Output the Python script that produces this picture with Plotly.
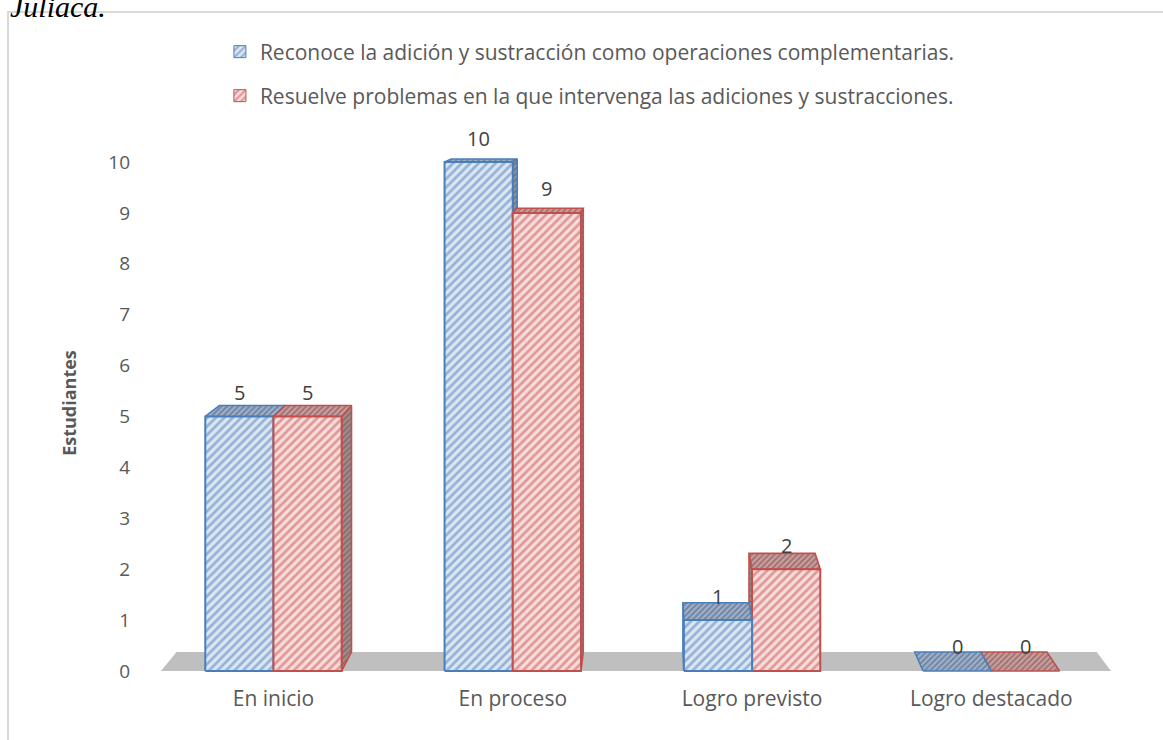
import plotly.graph_objects as go

# ---------------- data ----------------
categories = ["En inicio", "En proceso", "Logro previsto", "Logro destacado"]
series_names = [
    "Reconoce la adición y sustracción como operaciones complementarias.",
    "Resuelve problemas en la que intervenga las adiciones y sustracciones.",
]
reconoce = [5, 10, 1, 0]
resuelve = [5, 9, 2, 0]
y_tick_values = list(range(0, 11))
y_title = "Estudiantes"
caption_text = "Juliaca."

# ---------------- styling / geometry ----------------
BAR_W = 0.285
VX, VY, DEPTH = 1.594, 11.87, 0.0314   # pseudo-3D vanishing point & depth
X_RANGE = [-0.47, 3.5]
Y_RANGE = [-0.04, 10.57]
FONT = "Open Sans"
TXT = "#595959"

styles = [
    dict(line="#4a7ebb",
         front=dict(shape="/", fgcolor="#4a7ebb", bgcolor="#dce6f2", size=6, solidity=0.45),
         top=dict(shape="/", fgcolor="#48586d", bgcolor="#9fb3cf", size=4, solidity=0.5),
         side=dict(shape="/", fgcolor="#4d4d4d", bgcolor="#8c9ab0", size=4, solidity=0.5)),
    dict(line="#c0504d",
         front=dict(shape="/", fgcolor="#c9504d", bgcolor="#f6dddc", size=6, solidity=0.45),
         top=dict(shape="/", fgcolor="#6a4646", bgcolor="#cfa0a0", size=4, solidity=0.5),
         side=dict(shape="/", fgcolor="#555555", bgcolor="#a98c8c", size=4, solidity=0.5)),
]


def back(x, y):
    return x + DEPTH * (VX - x), y + DEPTH * (VY - y)


fig = go.Figure()


def poly(pts, line_color, pattern=None, fillcolor=None, width=1.6):
    xs = [p[0] for p in pts] + [pts[0][0]]
    ys = [p[1] for p in pts] + [pts[0][1]]
    kw = dict(x=xs, y=ys, mode="lines", fill="toself", showlegend=False,
              hoverinfo="skip", line=dict(color=line_color, width=width))
    if pattern is not None:
        kw["fillpattern"] = pattern
        kw["fillcolor"] = pattern["bgcolor"]
    else:
        kw["fillcolor"] = fillcolor
    fig.add_trace(go.Scatter(**kw))


# floor
f0, f1 = X_RANGE
poly([(f0, 0), (f1, 0), back(f1, 0), back(f0, 0)], "rgba(0,0,0,0)",
     fillcolor="#bfbfbf", width=0)

all_series = [reconoce, resuelve]
for i, cat in enumerate(categories):
    bars = []
    for s, vals in enumerate(all_series):
        xl = i - BAR_W + s * BAR_W
        xr = xl + BAR_W
        bars.append((s, xl, xr, vals[i]))
    # painter's order: farther from vanishing point first
    bars.sort(key=lambda b: -abs((b[1] + b[2]) / 2 - VX))
    for s, xl, xr, h in bars:
        st = styles[s]
        if h > 0:
            xe = xr if VX > xr else xl
            poly([(xe, 0), (xe, h), back(xe, h), back(xe, 0)], st["line"], st["side"])
        poly([(xl, h), (xr, h), back(xr, h), back(xl, h)], st["line"], st["top"])
        if h > 0:
            poly([(xl, 0), (xr, 0), (xr, h), (xl, h)], st["line"], st["front"], width=2)

# legend entries (patterned squares)
for s, name in enumerate(series_names):
    st = styles[s]
    fig.add_trace(go.Bar(
        x=[None], y=[None], name=name,
        marker=dict(color=st["front"]["bgcolor"], pattern=st["front"],
                    line=dict(color=st["line"], width=1)),
        legend="legend" if s == 0 else "legend2",
    ))

# data labels
annotations = []
for i in range(len(categories)):
    for s, vals in enumerate(all_series):
        xc = i - BAR_W / 2 + s * BAR_W
        annotations.append(dict(x=xc, y=vals[i], xref="x", yref="y", text=str(vals[i]),
                                showarrow=False, yshift=24,
                                font=dict(family=FONT, size=20, color="#404040")))

annotations.append(dict(x=-0.161, y=1.2685, xref="paper", yref="paper", xanchor="left",
                        yanchor="top", text="<i>" + caption_text + "</i>", showarrow=False,
                        font=dict(family="Liberation Serif", size=30, color="black")))

legend_common = dict(font=dict(family=FONT, size=21, color=TXT), bgcolor="rgba(0,0,0,0)",
                     xanchor="left", yanchor="middle", x=0.062)

fig.update_layout(
    width=1163, height=740,
    margin=dict(l=161, r=52, t=133, b=67),
    paper_bgcolor="white", plot_bgcolor="white",
    font=dict(family=FONT, size=18, color=TXT),
    showlegend=True,
    legend=dict(**legend_common, y=1.150),
    legend2=dict(**legend_common, y=1.0685),
    xaxis=dict(range=X_RANGE, tickvals=list(range(len(categories))), ticktext=categories,
               showgrid=False, zeroline=False, showline=False, ticks="",
               ticklabelstandoff=11, tickfont=dict(family=FONT, size=21, color=TXT)),
    yaxis=dict(range=Y_RANGE, tickvals=y_tick_values, showgrid=False, zeroline=False,
               showline=False, ticks="", ticklabelstandoff=30,
               tickfont=dict(family=FONT, size=19, color=TXT),
               title=dict(text="<b>" + y_title + "</b>", standoff=26,
                          font=dict(family=FONT, size=18, color=TXT))),
    annotations=annotations,
    shapes=[dict(type="rect", xref="paper", yref="paper", x0=-0.161, x1=1.2, y0=-0.3,
                 y1=1.224, line=dict(color="#d9d9d9", width=2), layer="below")],
)

fig.write_html("out.html", config={"displayModeBar": False},
               post_script="document.body.style.margin='0';")
